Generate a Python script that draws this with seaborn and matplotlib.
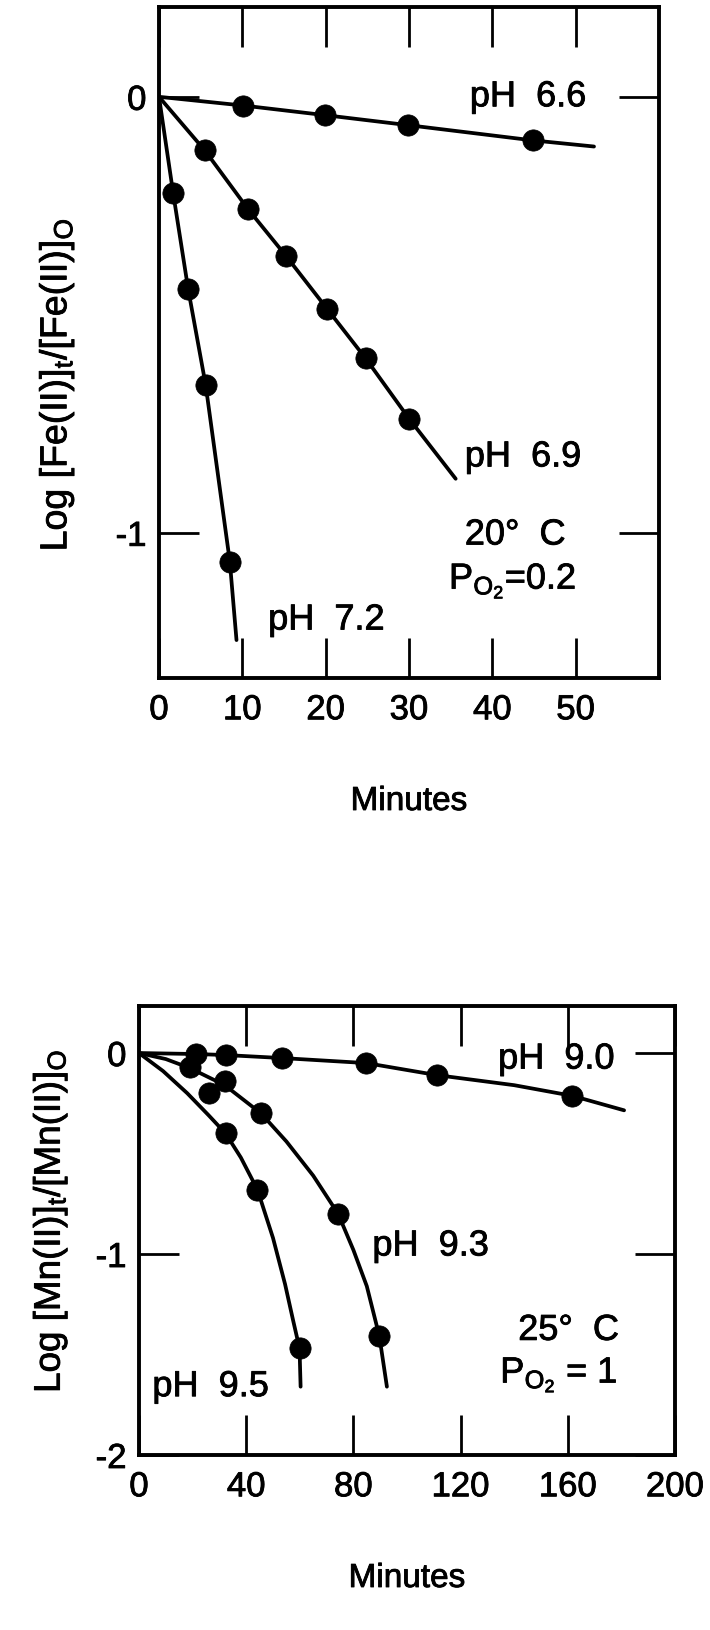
import matplotlib
matplotlib.use("Agg")
import matplotlib.pyplot as plt
import matplotlib.patheffects as pe
import seaborn as sns

# ---------------- Fe(II) oxidation, 20 C, PO2 = 0.2 ----------------
fe_ph66_t = [10.1, 19.9, 29.9, 44.9]
fe_ph66_v = [-0.02, -0.042, -0.065, -0.10]
fe_ph66_curve_t = [0, 10.1, 19.9, 29.9, 44.9, 52.2]
fe_ph66_curve_v = [0, -0.02, -0.042, -0.065, -0.10, -0.114]

fe_ph69_t = [5.5, 10.7, 15.2, 20.2, 24.8, 30.0]
fe_ph69_v = [-0.123, -0.258, -0.364, -0.487, -0.60, -0.738]
fe_ph69_curve_t = [0, 5.5, 10.7, 15.2, 20.2, 24.8, 30.0, 35.6]
fe_ph69_curve_v = [0, -0.123, -0.258, -0.364, -0.487, -0.60, -0.738, -0.876]

fe_ph72_t = [1.7, 3.5, 5.6, 8.5]
fe_ph72_v = [-0.221, -0.441, -0.661, -1.066]
fe_ph72_curve_t = [0, 1.7, 3.5, 5.6, 8.5, 9.3]
fe_ph72_curve_v = [0, -0.221, -0.441, -0.661, -1.066, -1.246]

fe_xticks = [0, 10, 20, 30, 40, 50]
fe_yticks = [-1, 0]
fe_ytick_labels = ["-1", "0"]

# ---------------- Mn(II) oxidation, 25 C, PO2 = 1 ----------------
mn_ph90_t = [21.4, 32.3, 53.4, 84.8, 111.2, 161.7]
mn_ph90_v = [-0.005, -0.01, -0.025, -0.05, -0.11, -0.213]
mn_ph90_curve_t = [0, 21.4, 32.3, 53.4, 84.8, 111.2, 140, 161.7, 181]
mn_ph90_curve_v = [0, -0.005, -0.01, -0.025, -0.05, -0.11, -0.16, -0.213, -0.285]

mn_ph93_t = [19, 32, 45.5, 74.3, 89.7]
mn_ph93_v = [-0.07, -0.14, -0.30, -0.80, -1.41]
mn_ph93_curve_t = [0, 10, 19, 32, 45.5, 55, 65, 74.3, 80, 85, 89.7, 92.5]
mn_ph93_curve_v = [0, -0.03, -0.075, -0.16, -0.30, -0.44, -0.61, -0.80, -0.98, -1.16, -1.41, -1.66]

mn_ph95_t = [26, 32.3, 44.2, 59.9]
mn_ph95_v = [-0.20, -0.40, -0.68, -1.47]
mn_ph95_curve_t = [0, 9, 18, 26, 32.3, 38, 44.2, 50, 54.5, 57.5, 59.9, 60.3]
mn_ph95_curve_v = [0, -0.09, -0.20, -0.31, -0.40, -0.52, -0.68, -0.92, -1.15, -1.33, -1.47, -1.66]

mn_xticks = [0, 40, 80, 120, 160, 200]
mn_yticks = [-2, -1, 0]
mn_ytick_labels = ["-2", "-1", "0"]

sns.set_style("white")
plt.rcParams["font.family"] = ["Liberation Sans", "DejaVu Sans"]
plt.rcParams["mathtext.fontset"] = "custom"
plt.rcParams["mathtext.rm"] = "Liberation Sans"
plt.rcParams["mathtext.it"] = "Liberation Sans"
plt.rcParams["mathtext.default"] = "regular"
plt.rcParams["text.color"] = "black"
plt.rcParams["axes.labelcolor"] = "black"
plt.rcParams["xtick.color"] = "black"
plt.rcParams["ytick.color"] = "black"

W, H = 710, 1630
fig = plt.figure(figsize=(W / 100, H / 100), dpi=100)
fig.patch.set_facecolor("white")

ax1 = fig.add_axes([159 / W, 1 - 678 / H, 500 / W, 671 / H])
ax2 = fig.add_axes([139 / W, 1 - 1455 / H, 536 / W, 449 / H])

LW = 2.7
MS = 235
HEAVY = [pe.withStroke(linewidth=0.6, foreground="black")]


def draw(ax, ct, cv, pt, pv):
    sns.lineplot(x=ct, y=cv, ax=ax, color="black", lw=LW, sort=False,
                 estimator=None)
    sns.scatterplot(x=pt, y=pv, ax=ax, color="black", s=MS, edgecolor="black",
                    linewidth=0.5, zorder=3)


draw(ax1, fe_ph66_curve_t, fe_ph66_curve_v, fe_ph66_t, fe_ph66_v)
draw(ax1, fe_ph69_curve_t, fe_ph69_curve_v, fe_ph69_t, fe_ph69_v)
draw(ax1, fe_ph72_curve_t, fe_ph72_curve_v, fe_ph72_t, fe_ph72_v)

draw(ax2, mn_ph90_curve_t, mn_ph90_curve_v, mn_ph90_t, mn_ph90_v)
draw(ax2, mn_ph93_curve_t, mn_ph93_curve_v, mn_ph93_t, mn_ph93_v)
draw(ax2, mn_ph95_curve_t, mn_ph95_curve_v, mn_ph95_t, mn_ph95_v)

FS = 26
TFS = 25

ax1.set_xlim(0, 60)
ax1.set_ylim(-1.333, 0.206)
ax1.set_xticks(fe_xticks)
ax1.set_xticklabels([str(v) for v in fe_xticks])
ax1.set_yticks(fe_yticks)
ax1.set_yticklabels(fe_ytick_labels)

ax2.set_xlim(0, 200)
ax2.set_ylim(-2, 0.234)
ax2.set_xticks(mn_xticks)
ax2.set_xticklabels([str(v) for v in mn_xticks])
ax2.set_yticks(mn_yticks)
ax2.set_yticklabels(mn_ytick_labels)

for ax in (ax1, ax2):
    for s in ax.spines.values():
        s.set_visible(True)
        s.set_linewidth(2.8)
        s.set_color("black")
    ax.tick_params(axis="both", direction="in", length=29, width=2.0,
                   top=True, right=True, left=True, bottom=True,
                   labelsize=TFS, colors="black")
    ax.tick_params(axis="x", pad=11)
    ax.tick_params(axis="y", pad=9)
    ax.set_xlabel("Minutes", fontsize=24, labelpad=43)
    ax.xaxis.label.set_path_effects(HEAVY)
    for lab in ax.get_xticklabels() + ax.get_yticklabels():
        lab.set_path_effects(HEAVY)

ax1.set_ylabel(r"Log [Fe(II)]$_{t}$/[Fe(II)]$_{O}$", fontsize=27)
ax1.yaxis.set_label_coords(-0.165, 0.437)
ax2.set_ylabel(r"Log [Mn(II)]$_{t}$/[Mn(II)]$_{O}$", fontsize=26.5)
ax2.yaxis.set_label_coords(-0.129, 0.52)
ax1.yaxis.label.set_path_effects(HEAVY)
ax2.yaxis.label.set_path_effects(HEAVY)

kw = dict(fontsize=FS, va="center", ha="left", path_effects=HEAVY)
# annotations, top panel
ax1.text(37.3, 0.0, "pH  6.6", **kw)
ax1.text(36.7, -0.826, "pH  6.9", **kw)
ax1.text(36.7, -1.005, "20\u00b0  C", **kw)
ax1.text(34.8, -1.11, r"P$_{O_2}$=0.2", **kw)
ax1.text(13.1, -1.2, "pH  7.2", **kw)

# annotations, bottom panel
ax2.text(134, -0.03, "pH  9.0", **kw)
ax2.text(87.1, -0.96, "pH  9.3", **kw)
ax2.text(141.5, -1.38, "25\u00b0  C", **kw)
ax2.text(134.8, -1.60, r"P$_{O_2}$ = 1", **kw)
ax2.text(5.0, -1.66, "pH  9.5", **kw)

fig.savefig("out.png", dpi=100, facecolor="white")
